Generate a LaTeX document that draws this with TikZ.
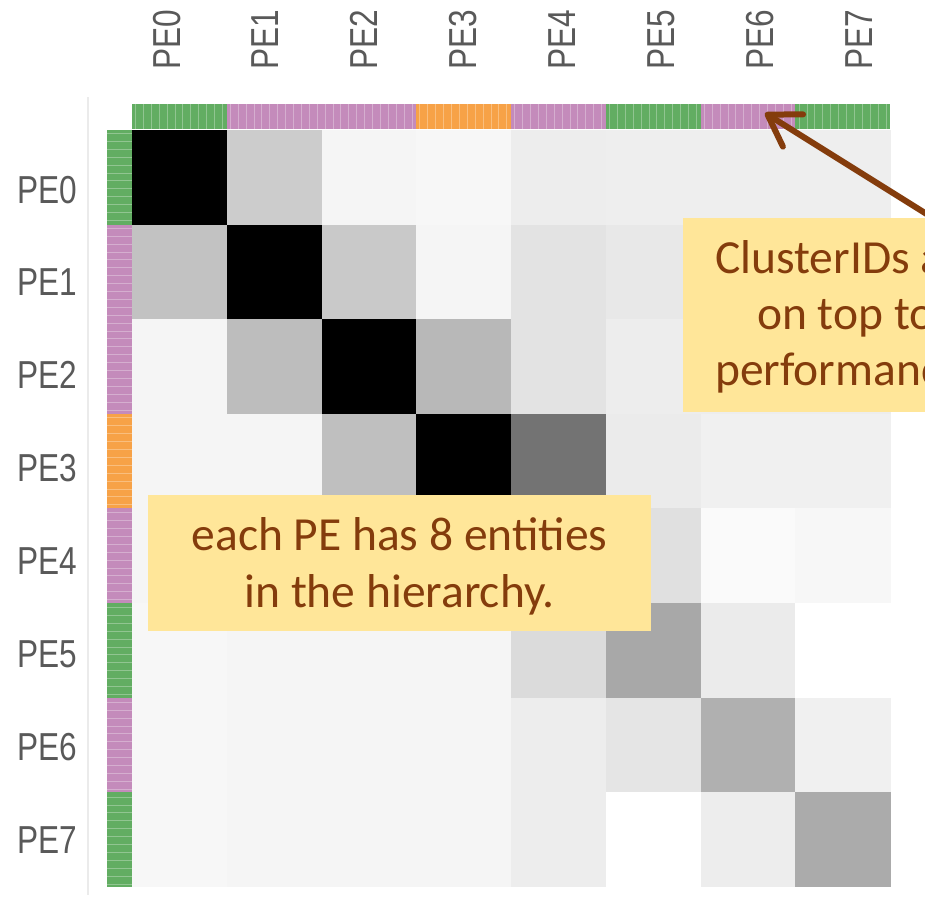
\documentclass[tikz,border=0pt]{standalone}
\usepackage{fontspec}
\setmainfont{Carlito}
\newfontfamily\labelfont{Liberation Sans}
\usetikzlibrary{arrows.meta}
\definecolor{cgreen}{HTML}{62AD62}
\definecolor{cpurple}{HTML}{C48BBB}
\definecolor{corange}{HTML}{F7A247}
\definecolor{cbrown}{HTML}{843C0C}
\definecolor{cfill}{HTML}{FFE699}
\definecolor{clabel}{HTML}{595959}
\tikzset{
  pelabel/.style={inner sep=0pt, text=clabel, font=\labelfont\fontsize{39}{44}\selectfont},
  calloutbox/.style={fill=cfill, draw=none, inner sep=0pt},
  callouttext/.style={inner sep=0pt, text=cbrown, font=\fontsize{47.5}{56}\selectfont},
  pointer/.style={draw=cbrown, line width=6pt, line cap=round,
    -{Straight Barb[length=30pt,width=38pt,line cap=round,line join=round]}},
}
\begin{document}
\begin{tikzpicture}[x=1pt,y=-1pt]
\useasboundingbox (0,0) rectangle (925,898);
\clip (0,0) rectangle (925,898);
\fill[white] (0,0) rectangle (925,898);
% faint axis line
\draw[line width=2.5pt, draw=black!8] (88,97) -- (88,895);
% matrix cells (white percentage)
\foreach \r/\vals in {
  0/{0,80,96,97,93,93.5,93.5,93.5},
  1/{76,0,79,96,89,91,92,92},
  2/{96,74,0,72,89,93,93,93},
  3/{96,96,75,0,45,92,94,94},
  4/{96,96,95,94,20,88,98,97},
  5/{97,96,96,96,86,66,92,100},
  6/{97,96,96,96,93,90,69,94},
  7/{97,96,96,96,93,100,93,67}} {
  \foreach \v [count=\c from 0] in \vals {
    \fill[white!\v!black] ({132+\c*94.75},{130+\r*94.6}) rectangle ++(95.25,95.1);
  }
}
% top colour bar
\foreach \c/\col in {0/cgreen,1/cpurple,2/cpurple,3/corange,4/cpurple,5/cgreen,6/cpurple,7/cgreen} {
  \fill[\col] ({132+\c*94.75},104) rectangle ++(94.75,25);
}
\foreach \k in {0,...,95} {
  \draw[white, opacity=0.3, line width=1pt] ({135.5+\k*7.9},104) -- ++(0,25);
}
% left colour bar
\foreach \c/\col in {0/cgreen,1/cpurple,2/cpurple,3/corange,4/cpurple,5/cgreen,6/cpurple,7/cgreen} {
  \fill[\col] (107,{130+\c*94.6}) rectangle ++(25,94.6);
}
\foreach \k in {0,...,95} {
  \draw[white, opacity=0.3, line width=1pt] (107,{133.5+\k*7.9}) -- ++(25,0);
}
% labels
\foreach \i in {0,...,7} {
  \node[pelabel, anchor=base east] (row\i) at (77,{203+\i*92.9}) {\scalebox{0.81}[1]{PE\i}};
  \node[pelabel, rotate=90, anchor=base west] (col\i) at ({180+\i*98.9},70) {\scalebox{0.81}[1]{PE\i}};
}
% callout 1
\node[calloutbox, minimum width=503pt, minimum height=136pt] (c1) at (399.5,563) {};
\node[callouttext, anchor=base] (c1a) at (399.5,550) {each PE has 8 entities};
\node[callouttext, anchor=base] (c1b) at (399.5,607) {in the hierarchy.};
% callout 2
\node[calloutbox, anchor=north west, minimum width=330pt, minimum height=194pt] (c2) at (683,218) {};
\node[callouttext, anchor=base west] (c2a) at (715,273) {ClusterIDs are};
\node[callouttext, anchor=base west] (c2b) at (757,329) {on top to};
\node[callouttext, anchor=base west] (c2c) at (715,385) {performance};
% arrow
\coordinate (a0) at (933,218);
\coordinate (a1) at (765,113);
\draw[pointer] (a0) -- (a1);
\end{tikzpicture}
\end{document}
